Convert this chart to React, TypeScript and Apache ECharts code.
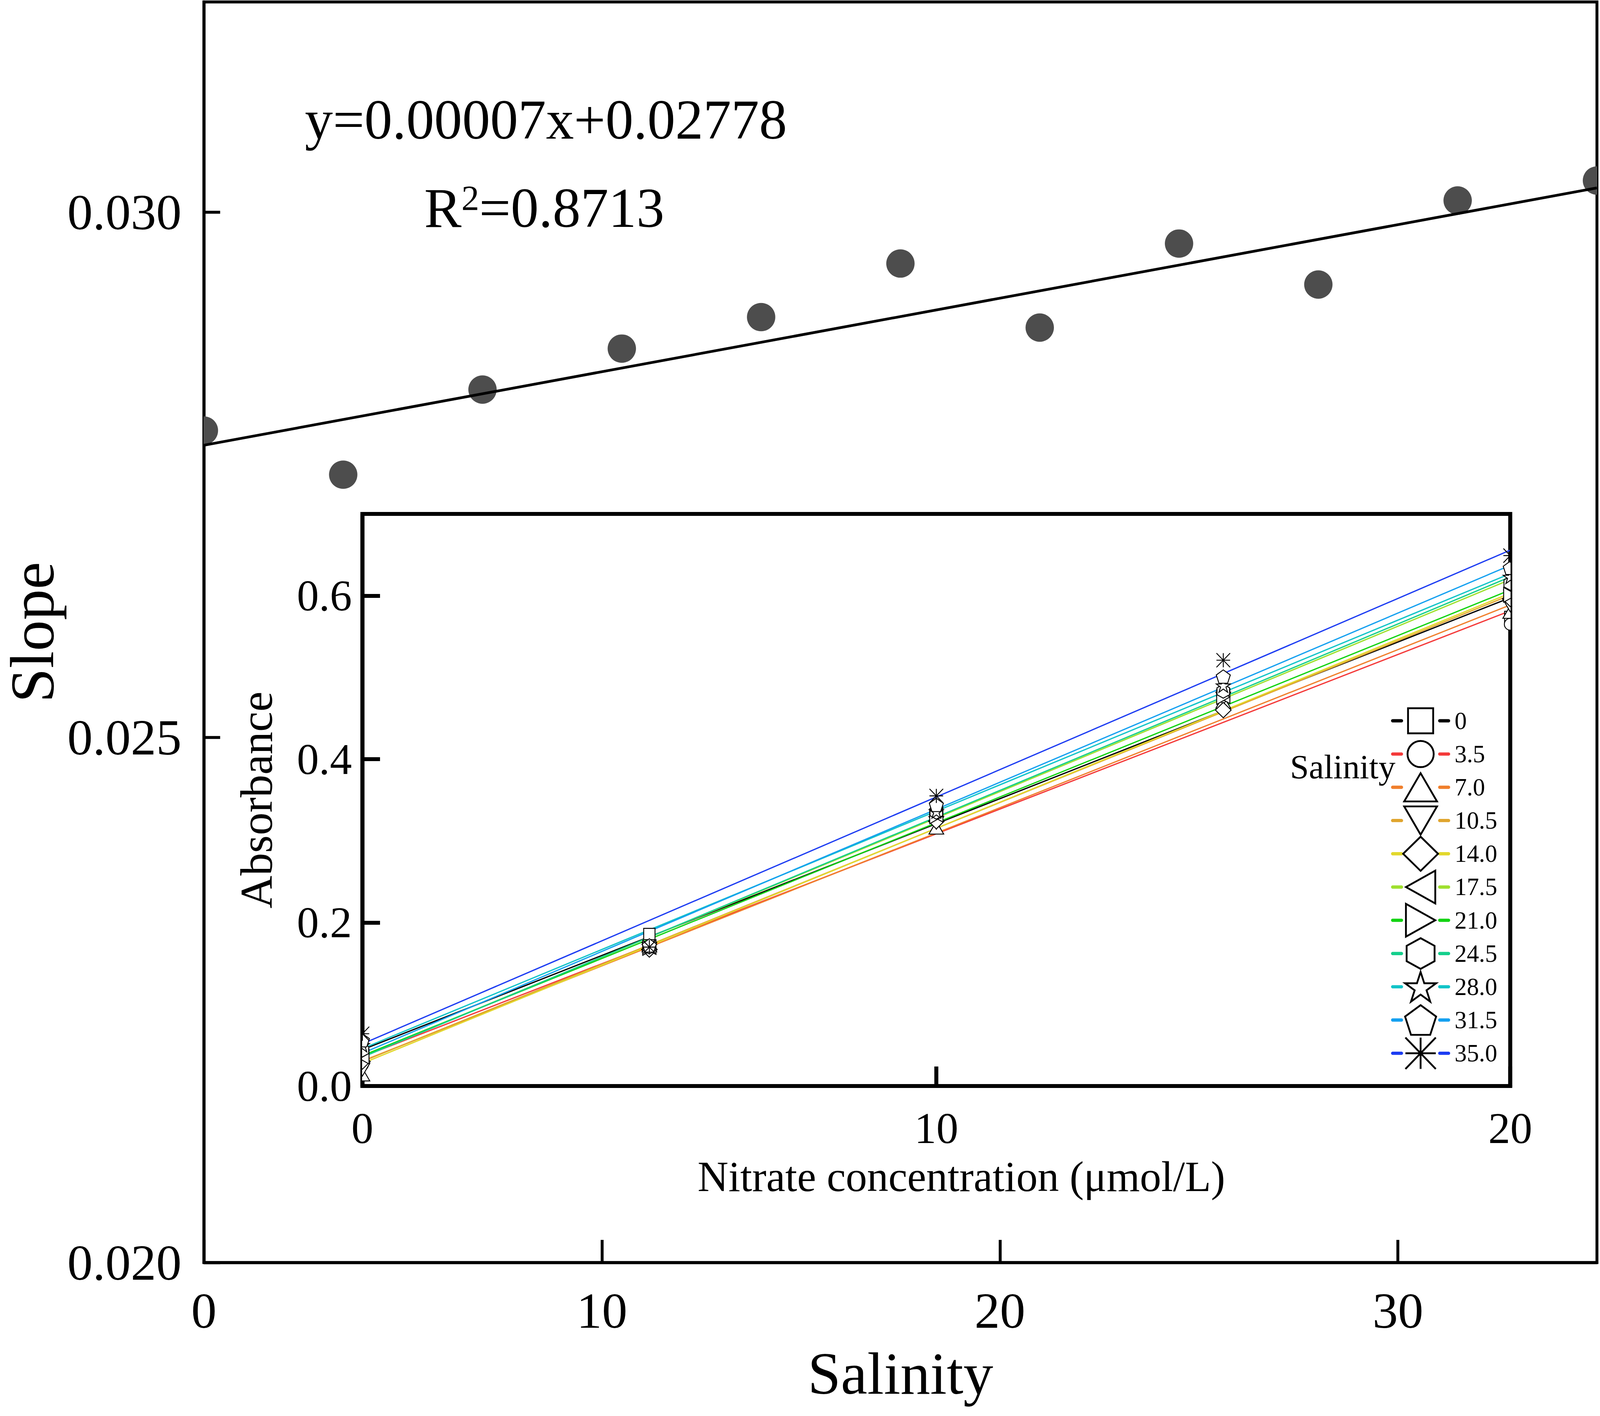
import React, { useEffect, useRef, useState } from 'react';
import * as echarts from 'echarts';

const FONT = "'Liberation Serif', 'Times New Roman', Times, serif";
const BASE_W = 4724;
const BASE_H = 3626;

// ---------- Main plot data ----------
const SALINITY = [0, 3.5, 7, 10.5, 14, 17.5, 21, 24.5, 28, 31.5, 35];
const SLOPE = [0.02792, 0.0275, 0.02831, 0.0287, 0.029, 0.02951, 0.0289, 0.0297, 0.02931, 0.03011, 0.0303];
const FIT_X = [0, 35];
const FIT_Y = [0.02778, 0.03023];
const MAIN_X_TICKS = [0, 10, 20, 30];
const MAIN_Y_TICKS = [0.02, 0.025, 0.03];
const EQUATION = 'y=0.00007x+0.02778';
const R2_VALUE = '=0.8713';

// ---------- Inset data ----------
const SALINITY_LABELS = ['0', '3.5', '7.0', '10.5', '14.0', '17.5', '21.0', '24.5', '28.0', '31.5', '35.0'];
const LINE_COLORS = ['#000000', '#f43a3a', '#f07f2c', '#e0a52e', '#e2d82c', '#9fe02e', '#12d312', '#14cf8c', '#12c4c8', '#14a0f0', '#1c3cf2'];
const SHAPES = ['square', 'circle', 'up', 'down', 'diamond', 'left', 'right', 'hexagon', 'star', 'pentagon', 'asterisk'];
const CONCENTRATION = [0, 5, 10, 15, 20];
const INSET_X_TICKS = [0, 10, 20];
const INSET_Y_TICKS = [0, 0.2, 0.4, 0.6];

const ABS_S0 = [0.034, 0.186, 0.33, 0.478, 0.574];
const ABS_S3_5 = [0.026, 0.17, 0.342, 0.484, 0.565];
const ABS_S7_0 = [0.014, 0.172, 0.316, 0.47, 0.58];
const ABS_S10_5 = [0.02, 0.168, 0.322, 0.474, 0.588];
const ABS_S14_0 = [0.03, 0.167, 0.324, 0.46, 0.596];
const ABS_S17_5 = [0.036, 0.17, 0.332, 0.477, 0.607];
const ABS_S21_0 = [0.04, 0.169, 0.33, 0.476, 0.601];
const ABS_S24_5 = [0.044, 0.17, 0.335, 0.483, 0.615];
const ABS_S28_0 = [0.05, 0.171, 0.336, 0.49, 0.623];
const ABS_S31_5 = [0.056, 0.172, 0.344, 0.501, 0.634];
const ABS_S35_0 = [0.064, 0.17, 0.355, 0.521, 0.649];
const ABS_BY_SALINITY = [ABS_S0, ABS_S3_5, ABS_S7_0, ABS_S10_5, ABS_S14_0, ABS_S17_5, ABS_S21_0, ABS_S24_5, ABS_S28_0, ABS_S31_5, ABS_S35_0];

// fitted lines, absorbance at 0 and 20 umol/L
const FIT_AT_0 = [0.0444, 0.0358, 0.0306, 0.03, 0.0277, 0.036, 0.0372, 0.0353, 0.0458, 0.0401, 0.0516];
const FIT_AT_20 = [0.5974, 0.5814, 0.5886, 0.6006, 0.603, 0.6197, 0.6069, 0.6229, 0.6269, 0.6371, 0.6557];

// ---------- marker geometry ----------
function f(v: number) {
  return (Math.round(v * 100) / 100).toString();
}
function poly(pts: number[][], k: number) {
  return 'M' + pts.map((p) => f(p[0] * k) + ' ' + f(p[1] * k)).join(' L') + ' Z';
}
function regular(n: number, R: number, rInner: number | null, dy: number) {
  const pts: number[][] = [];
  const count = rInner == null ? n : n * 2;
  for (let i = 0; i < count; i++) {
    const a = -Math.PI / 2 + (i * 2 * Math.PI) / count;
    const r = rInner == null ? R : i % 2 === 0 ? R : rInner;
    pts.push([r * Math.cos(a), r * Math.sin(a) + dy]);
  }
  return pts;
}
function shapePath(kind: string, k: number): string {
  switch (kind) {
    case 'square':
      return poly([[-0.72, -0.72], [0.72, -0.72], [0.72, 0.72], [-0.72, 0.72]], k);
    case 'circle': {
      const r = 0.75 * k;
      const c = r * 0.5523;
      return `M${f(-r)} 0 C${f(-r)} ${f(-c)} ${f(-c)} ${f(-r)} 0 ${f(-r)} C${f(c)} ${f(-r)} ${f(r)} ${f(-c)} ${f(r)} 0 C${f(r)} ${f(c)} ${f(c)} ${f(r)} 0 ${f(r)} C${f(-c)} ${f(r)} ${f(-r)} ${f(c)} ${f(-r)} 0 Z`;
    }
    case 'up':
      return poly([[0, -0.81], [0.94, 0.81], [-0.94, 0.81]], k);
    case 'down':
      return poly([[0, 0.81], [0.94, -0.81], [-0.94, -0.81]], k);
    case 'left':
      return poly([[-0.84, 0], [0.84, -0.94], [0.84, 0.94]], k);
    case 'right':
      return poly([[0.84, 0], [-0.84, -0.94], [-0.84, 0.94]], k);
    case 'diamond':
      return poly([[0, -0.98], [1, 0], [0, 0.98], [-1, 0]], k);
    case 'hexagon':
      return poly([[0, -0.88], [0.8, -0.44], [0.8, 0.44], [0, 0.88], [-0.8, 0.44], [-0.8, -0.44]], k);
    case 'star':
      return poly(regular(5, 0.94, 0.36, 0.09), k);
    case 'pentagon':
      return poly(regular(5, 0.94, null, 0.09), k);
    case 'asterisk':
    default: {
      const a = 0.87 * k;
      const b = 0.9 * k;
      return `M${f(-a)} ${f(-b)} L${f(a)} ${f(b)} M${f(-a)} ${f(b)} L${f(a)} ${f(-b)} M0 ${f(-b)} L0 ${f(b)} M${f(-a)} 0 L${f(a)} 0`;
    }
  }
}

function buildOption(sx: number, sy: number) {
  const sm = Math.sqrt(sx * sy);
  const X = (v: number) => v * sx; // horizontal distances
  const Y = (v: number) => v * sy; // vertical distances
  const F = (v: number) => v * sx; // font sizes of horizontal texts
  const M = (v: number) => v * sm; // marks, strokes, rotated texts
  const series: any[] = [];

  // main scatter points (clipped by the grid)
  series.push({
    type: 'custom',
    name: 'slope',
    xAxisIndex: 0,
    yAxisIndex: 0,
    clip: true,
    z: 2,
    silent: true,
    data: SALINITY.map((s, i) => [s, SLOPE[i]]),
    renderItem: (params: any, api: any) => {
      const c = api.coord([api.value(0), api.value(1)]);
      return { type: 'circle', shape: { cx: c[0], cy: c[1], r: M(39) }, style: { fill: '#4d4d4d' } };
    },
  });
  // main fit line
  series.push({
    type: 'line',
    name: 'fit',
    xAxisIndex: 0,
    yAxisIndex: 0,
    z: 3,
    showSymbol: false,
    data: FIT_X.map((x, i) => [x, FIT_Y[i]]),
    lineStyle: { color: '#000', width: M(7.5) },
    silent: true,
  });

  // inset fit lines (carry legend icons)
  SALINITY_LABELS.forEach((name, i) => {
    series.push({
      type: 'line',
      name,
      xAxisIndex: 1,
      yAxisIndex: 1,
      z: 2,
      showSymbol: false,
      symbol: 'path://M-1 -1 M1 1 ' + shapePath(SHAPES[i], 1),
      data: [
        [CONCENTRATION[0], FIT_AT_0[i]],
        [CONCENTRATION[CONCENTRATION.length - 1], FIT_AT_20[i]],
      ],
      lineStyle: { color: LINE_COLORS[i], width: M(3.5) },
      itemStyle: { color: '#fff', borderColor: '#000', borderWidth: M(5) },
      silent: true,
    });
  });
  // inset data markers
  SALINITY_LABELS.forEach((name, i) => {
    const d = shapePath(SHAPES[i], M(21.6));
    series.push({
      type: 'custom',
      name,
      xAxisIndex: 1,
      yAxisIndex: 1,
      clip: true,
      z: 3,
      silent: true,
      data: CONCENTRATION.map((c, j) => [c, ABS_BY_SALINITY[i][j]]),
      renderItem: (params: any, api: any) => {
        const c = api.coord([api.value(0), api.value(1)]);
        return {
          type: 'path',
          x: c[0],
          y: c[1],
          shape: { pathData: d },
          style: { fill: '#fff', stroke: '#000', lineWidth: M(2.5) },
        };
      },
    });
  });

  const axisCommon = (w: number, tickLen: number) => ({
    type: 'value',
    axisLine: { show: true, onZero: false, lineStyle: { color: '#000', width: M(w) } },
    axisTick: { show: true, inside: true, length: tickLen, lineStyle: { color: '#000', width: M(w) } },
    splitLine: { show: false },
    minorTick: { show: false },
  });

  // legend geometry: item box height is ~0.8*itemHeight + stroke
  const legItemH = M(120);
  const legBox = 0.8 * legItemH + M(5.5);
  const legSpacing = Y(85.6);

  return {
    animation: false,
    backgroundColor: '#ffffff',
    textStyle: { fontFamily: FONT, color: '#000' },
    grid: [
      { left: X(602), right: X(9), top: Y(5), bottom: Y(393), show: true, borderColor: '#000', borderWidth: M(8), backgroundColor: 'transparent', containLabel: false, outerBoundsMode: 'none' },
      { left: X(1070), right: X(265), top: Y(1316), bottom: Y(845), show: true, borderColor: '#000', borderWidth: M(11), backgroundColor: '#fff', containLabel: false, outerBoundsMode: 'none' },
    ],
    xAxis: [
      {
        ...axisCommon(8, Y(58)),
        gridIndex: 0,
        min: MAIN_X_TICKS[0],
        max: 35,
        interval: MAIN_X_TICKS[1] - MAIN_X_TICKS[0],
        axisLabel: { fontSize: F(150), color: '#000', fontFamily: FONT, margin: Y(58), showMaxLabel: false },
        name: 'Salinity',
        nameLocation: 'middle',
        nameGap: Y(196),
        nameTextStyle: { fontSize: F(176), lineHeight: Y(176), color: '#000', fontFamily: FONT },
      },
      {
        ...axisCommon(11, Y(50)),
        gridIndex: 1,
        min: INSET_X_TICKS[0],
        max: INSET_X_TICKS[INSET_X_TICKS.length - 1],
        interval: INSET_X_TICKS[1] - INSET_X_TICKS[0],
        axisLabel: { fontSize: F(130), color: '#000', fontFamily: FONT, margin: Y(51) },
        name: 'Nitrate concentration (μmol/L)',
        nameLocation: 'middle',
        nameGap: Y(178),
        nameTextStyle: { fontSize: F(126), color: '#000', fontFamily: FONT, padding: [0, 0, 0, X(148)] },
      },
    ],
    yAxis: [
      {
        ...axisCommon(8, X(48)),
        gridIndex: 0,
        min: MAIN_Y_TICKS[0],
        max: 0.032,
        interval: MAIN_Y_TICKS[1] - MAIN_Y_TICKS[0],
        axisLabel: { fontSize: F(150), color: '#000', fontFamily: FONT, margin: X(66), showMaxLabel: false, formatter: (v: number) => v.toFixed(3) },
        name: 'Slope',
        nameLocation: 'middle',
        nameGap: X(418),
        nameTextStyle: { fontSize: M(170), lineHeight: M(150), color: '#000', fontFamily: FONT },
      },
      {
        ...axisCommon(11, X(52)),
        gridIndex: 1,
        min: INSET_Y_TICKS[0],
        max: 0.7,
        interval: INSET_Y_TICKS[1] - INSET_Y_TICKS[0],
        axisLabel: { fontSize: F(130), color: '#000', fontFamily: FONT, margin: X(31), showMaxLabel: false, formatter: (v: number) => v.toFixed(1) },
        name: 'Absorbance',
        nameLocation: 'middle',
        nameGap: X(246),
        nameTextStyle: { fontSize: M(125), color: '#000', fontFamily: FONT },
      },
    ],
    legend: {
      orient: 'vertical',
      left: X(4107),
      top: Y(1846) - legBox / 2,
      padding: 0,
      itemWidth: X(165),
      itemHeight: legItemH,
      itemGap: legSpacing - legBox,
      selectedMode: false,
      data: SALINITY_LABELS,
      textStyle: { fontSize: F(72), color: '#000', fontFamily: FONT, padding: [0, 0, 0, X(12)] },
      itemStyle: { color: '#fff', borderColor: '#000', borderWidth: M(5) },
      lineStyle: { width: M(9), type: [X(26), X(113)], cap: 'round' },
    },
    graphic: [
      {
        type: 'text',
        x: X(1612),
        y: Y(307),
        z: 100,
        style: { text: EQUATION, fontSize: F(165), fontFamily: FONT, fill: '#000', align: 'center', verticalAlign: 'middle' },
      },
      {
        type: 'text',
        x: X(1607),
        y: Y(533),
        z: 100,
        style: {
          text: '{a|R}{b|2}{a|' + R2_VALUE + '}',
          rich: {
            a: { fontSize: F(165), fontFamily: FONT, fill: '#000' },
            b: { fontSize: F(105), fontFamily: FONT, fill: '#000', verticalAlign: 'top' },
          },
          align: 'center',
          verticalAlign: 'middle',
        },
      },
      {
        type: 'text',
        x: X(4120),
        y: Y(1964),
        z: 100,
        style: { text: 'Salinity', fontSize: F(100), fontFamily: FONT, fill: '#000', align: 'right', verticalAlign: 'middle' },
      },
    ],
    series,
  };
}

function getSize() {
  const w = window.innerWidth || BASE_W;
  const h = window.innerHeight || BASE_H;
  return { w, h };
}

export default function App() {
  const ref = useRef<HTMLDivElement>(null);
  const [size] = useState(() => {
    document.body.style.margin = '0';
    document.body.style.overflow = 'hidden';
    return getSize();
  });
  useEffect(() => {
    const chart = echarts.init(ref.current as HTMLDivElement, null, { renderer: 'svg' });
    chart.setOption(buildOption(size.w / BASE_W, size.h / BASE_H) as any);
    return () => chart.dispose();
  }, [size]);
  return <div ref={ref} style={{ width: size.w, height: size.h }} />;
}
